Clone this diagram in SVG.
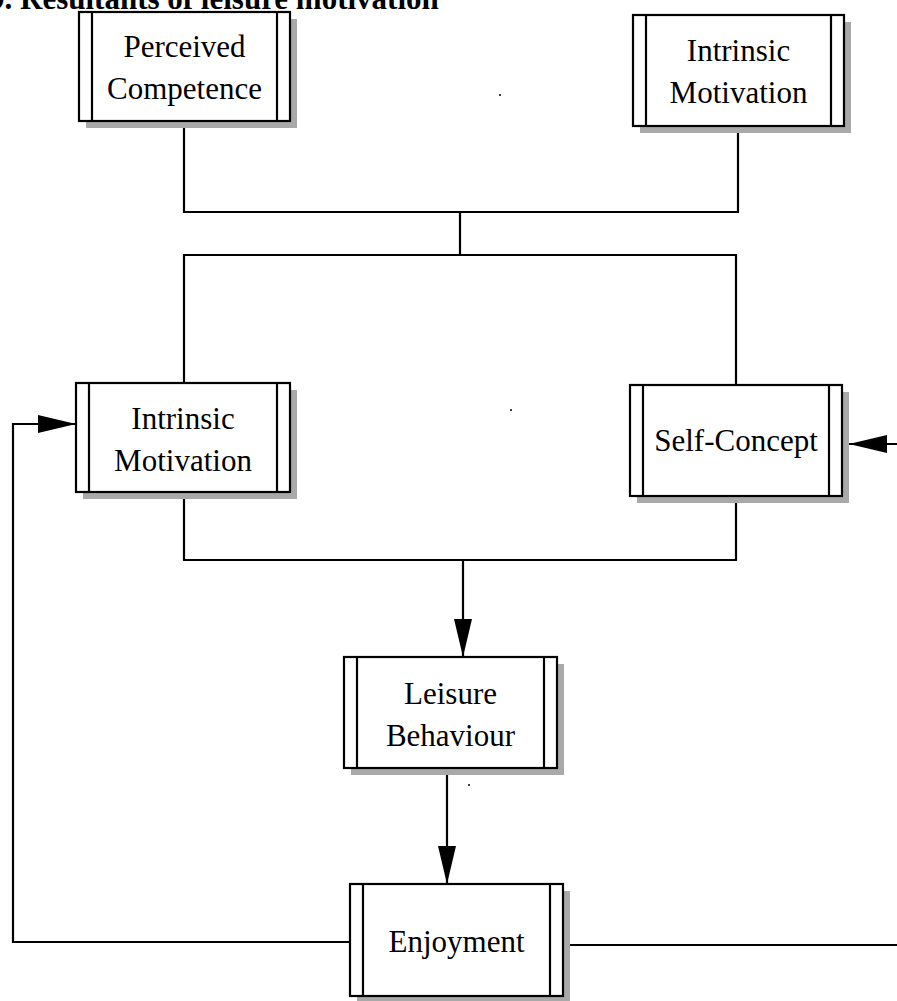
<svg xmlns="http://www.w3.org/2000/svg" width="897" height="1001" viewBox="0 0 897 1001">
<style>
  .box { fill: #ffffff; stroke: #000000; stroke-width: 2.2; }
  .shadow { fill: #a9a9a9; }
  .bar { stroke: #000000; stroke-width: 2.2; fill: none; }
  .lbl { font-family: "Liberation Serif", "Times New Roman", serif; font-size: 31px; fill: #000000; text-anchor: middle; }
  .title { font-family: "Liberation Serif", "Times New Roman", serif; font-size: 31px; font-weight: bold; fill: #000000; }
  .conn { fill: none; stroke: #000000; stroke-width: 2.2; }
</style>
<defs>
  <marker id="arrow" markerUnits="userSpaceOnUse" markerWidth="38" markerHeight="18" refX="38" refY="9" orient="auto">
    <path d="M0,0 L38,9 L0,18 Z" fill="#000000"/>
  </marker>
</defs>
<rect x="0" y="0" width="897" height="1001" fill="#ffffff"/>
<text class="title" x="-11" y="9">9. Resultants of leisure motivation</text>

<g id="connectors">
  <path class="conn" d="M184,121 V212 H738 V126"/>
  <path class="conn" d="M460,212 V255"/>
  <path class="conn" d="M184,383 V255 H736 V385"/>
  <path class="conn" d="M184,492 V560 H736 V496"/>
  <path class="conn" d="M463,560 V657" marker-end="url(#arrow)"/>
  <path class="conn" d="M447,768 V884" marker-end="url(#arrow)"/>
  <path class="conn" d="M350,942 H13 V424 H76" marker-end="url(#arrow)"/>
  <path class="conn" d="M563,945 H897"/>
  <path class="conn" d="M897,444 H849" marker-end="url(#arrow)"/>
</g>

<g id="perceived-competence">
  <rect class="shadow" x="86" y="19" width="211" height="109"/>
  <rect class="box" x="79" y="12" width="211" height="109"/>
  <path class="bar" d="M92,12 V121 M277,12 V121"/>
  <text class="lbl" x="184.5" y="57">Perceived</text>
  <text class="lbl" x="184.5" y="99">Competence</text>
</g>

<g id="intrinsic-motivation-top">
  <rect class="shadow" x="640" y="22" width="211" height="111"/>
  <rect class="box" x="633" y="15" width="211" height="111"/>
  <path class="bar" d="M646,15 V126 M831,15 V126"/>
  <text class="lbl" x="738.5" y="61">Intrinsic</text>
  <text class="lbl" x="738.5" y="103">Motivation</text>
</g>

<g id="intrinsic-motivation">
  <rect class="shadow" x="83" y="390" width="214" height="109"/>
  <rect class="box" x="76" y="383" width="214" height="109"/>
  <path class="bar" d="M89,383 V492 M277,383 V492"/>
  <text class="lbl" x="183" y="429">Intrinsic</text>
  <text class="lbl" x="183" y="471">Motivation</text>
</g>

<g id="self-concept">
  <rect class="shadow" x="637" y="392" width="212" height="111"/>
  <rect class="box" x="630" y="385" width="212" height="111"/>
  <path class="bar" d="M643,385 V496 M829,385 V496"/>
  <text class="lbl" x="736" y="451">Self-Concept</text>
</g>

<g id="leisure-behaviour">
  <rect class="shadow" x="351" y="664" width="213" height="111"/>
  <rect class="box" x="344" y="657" width="213" height="111"/>
  <path class="bar" d="M357,657 V768 M544,657 V768"/>
  <text class="lbl" x="450.5" y="704">Leisure</text>
  <text class="lbl" x="450.5" y="746">Behaviour</text>
</g>

<g id="enjoyment">
  <rect class="shadow" x="357" y="891" width="213" height="112"/>
  <rect class="box" x="350" y="884" width="213" height="112"/>
  <path class="bar" d="M363,884 V996 M550,884 V996"/>
  <text class="lbl" x="456.5" y="952">Enjoyment</text>
</g>

<g id="specks">
  <circle cx="500" cy="95" r="1" fill="#000"/>
  <circle cx="511" cy="410" r="1" fill="#000"/>
  <circle cx="469" cy="785" r="1" fill="#000"/>
</g>
</svg>
